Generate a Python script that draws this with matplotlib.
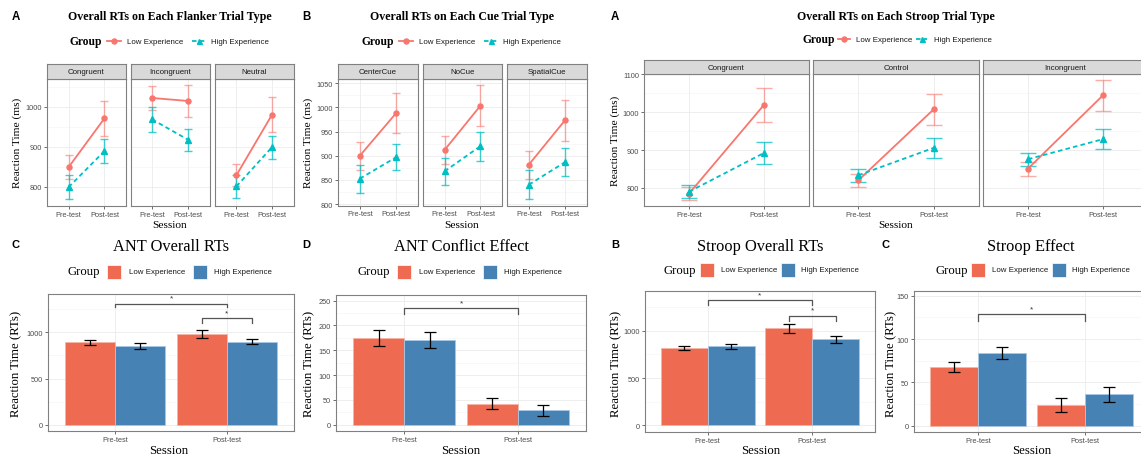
import matplotlib
matplotlib.use("Agg")
import matplotlib.pyplot as plt
from matplotlib.lines import Line2D
from matplotlib.patches import Rectangle
import numpy as np

W, H = 1141, 456

sessions = ["Pre-test", "Post-test"]
groups = ["Low Experience", "High Experience"]

# ANT flanker trial types (mean, se) per session
flanker_types = ["Congruent", "Incongruent", "Neutral"]
flanker_low = [[849, 971.5], [1022.5, 1015], [829, 981]]
flanker_low_se = [[30.5, 43], [31, 40.5], [28, 43]]
flanker_high = [[799, 889.5], [969, 918], [801, 899.5]]
flanker_high_se = [[30, 30], [32, 28], [28.5, 29]]

# ANT cue trial types
cue_types = ["CenterCue", "NoCue", "SpatialCue"]
cue_low = [[900, 988.5], [912, 1003.7], [881.5, 974]]
cue_low_se = [[29, 41], [29, 42.7], [29, 42.5]]
cue_high = [[852.5, 897], [867.7, 920], [840, 887]]
cue_high_se = [[29, 26.6], [28.3, 30], [30.3, 28.2]]

# Stroop trial types
stroop_types = ["Congruent", "Control", "Incongruent"]
stroop_low = [[785, 1019.7], [820, 1008], [851, 1045]]
stroop_low_se = [[18, 44], [17.5, 41.5], [18.5, 41.5]]
stroop_high = [[790, 892.6], [833.5, 906], [876, 929]]
stroop_high_se = [[17.5, 28], [17.6, 27], [17.3, 27]]

# bar panels
ant_rt_low, ant_rt_low_se = [891, 982], [29, 47]
ant_rt_high, ant_rt_high_se = [851, 899], [31, 29]
ant_conf_low, ant_conf_low_se = [174.5, 42.5], [15.5, 11]
ant_conf_high, ant_conf_high_se = [171, 29], [15.7, 10.7]
stroop_rt_low, stroop_rt_low_se = [817.5, 1024.6], [24.5, 49]
stroop_rt_high, stroop_rt_high_se = [835, 909], [24.5, 33.5]
stroop_eff_low, stroop_eff_low_se = [67.7, 23.8], [6.2, 8.5]
stroop_eff_high, stroop_eff_high_se = [83.8, 36.2], [7, 8.7]

LOW_C, HIGH_C = "#F8766D", "#00BFC4"
LOW_BAR, HIGH_BAR = "#EE6A50", "#4682B4"
SERIF = "Liberation Serif"
SANS = "Liberation Sans"
TICK_C = "#4D4D4D"
BORDER_C = "#808080"

fig = plt.figure(figsize=(W / 100, H / 100), dpi=100)


def box(x0, y0, x1, y1):
    return [x0 / W, 1 - y1 / H, (x1 - x0) / W, (y1 - y0) / H]


def fx(x):
    return x / W


def fy(y):
    return 1 - y / H


def style_axes(ax, ylim, yticks, minor, show_y=True, tsize=5.3):
    ax.set_ylim(*ylim)
    ax.set_yticks(yticks)
    ax.set_yticks(minor, minor=True)
    ax.grid(True, which="major", color="#EBEBEB", lw=0.6)
    ax.grid(True, which="minor", axis="y", color="#F3F3F3", lw=0.4)
    ax.set_axisbelow(True)
    ax.tick_params(which="minor", length=0)
    ax.tick_params(which="major", length=2, width=0.5, color="#333333",
                   labelsize=tsize, labelcolor=TICK_C, pad=1.5)
    for lab in ax.get_xticklabels() + ax.get_yticklabels():
        lab.set_fontfamily(SANS)
    if not show_y:
        ax.tick_params(axis="y", length=0, labelleft=False)
    for s in ax.spines.values():
        s.set_color(BORDER_C)
        s.set_linewidth(0.8)


def facet_row(xs, top, strip_b, bottom, names, low, low_se, high, high_se,
              ylim, yticks, minor):
    pos = np.arange(1, 3)
    for i, (x0, x1) in enumerate(xs):
        ax = fig.add_axes(box(x0, strip_b, x1, bottom))
        ppu = (x1 - x0) / 2.2
        cap = 0.11 * ppu * 0.72
        ax.errorbar(pos, low[i], yerr=low_se[i], fmt="none", ecolor=LOW_C,
                    elinewidth=1.0, capsize=cap, capthick=1.0, alpha=0.6)
        ax.errorbar(pos, high[i], yerr=high_se[i], fmt="none", ecolor=HIGH_C,
                    elinewidth=1.0, capsize=cap, capthick=1.0, alpha=0.75)
        ax.plot(pos, low[i], color=LOW_C, lw=1.3, marker="o", ms=3.6)
        ax.plot(pos, high[i], color=HIGH_C, lw=1.3, ls=(0, (2.5, 1.8)),
                marker="^", ms=3.8)
        ax.set_xlim(0.4, 2.6)
        ax.set_xticks(pos)
        ax.set_xticklabels(sessions)
        style_axes(ax, ylim, yticks, minor, show_y=(i == 0))
        st = fig.add_axes(box(x0, top, x1, strip_b))
        st.set_facecolor("#D9D9D9")
        st.set_xticks([])
        st.set_yticks([])
        for s in st.spines.values():
            s.set_color(BORDER_C)
            s.set_linewidth(0.8)
        st.text(0.5, 0.5, names[i], ha="center", va="center", fontsize=5.7,
                family=SANS, color="#1A1A1A", transform=st.transAxes)


def line_legend(gx, gy, low_line, low_tx, high_line, high_tx):
    fig.text(fx(gx), fy(gy), "Group", family=SERIF, weight="bold",
             fontsize=8.3, ha="left", va="center")
    for (a, b), tx, c, m, ls in [(low_line, low_tx, LOW_C, "o", "-"),
                                 (high_line, high_tx, HIGH_C, "^", (0, (2.5, 1.8)))]:
        fig.add_artist(Line2D([fx(a), fx(b)], [fy(gy), fy(gy)], color=c, lw=1.3,
                              ls=ls, transform=fig.transFigure))
        fig.add_artist(Line2D([fx((a + b) / 2)], [fy(gy)], color=c, marker=m,
                              ms=3.6, transform=fig.transFigure))
    fig.text(fx(low_tx), fy(gy), groups[0], family=SANS, fontsize=5.7,
             ha="left", va="center", color="#1A1A1A")
    fig.text(fx(high_tx), fy(gy), groups[1], family=SANS, fontsize=5.7,
             ha="left", va="center", color="#1A1A1A")


def bar_legend(gx, gy, low_x, low_tx, high_x, high_tx):
    fig.text(fx(gx), fy(gy), "Group", family=SERIF, fontsize=9.2,
             ha="left", va="center")
    for x, c in [(low_x, LOW_BAR), (high_x, HIGH_BAR)]:
        fig.add_artist(Rectangle((fx(x), fy(gy + 7)), 14 / W, 14 / H,
                                 facecolor=c, edgecolor="white", lw=0.5,
                                 transform=fig.transFigure))
    fig.text(fx(low_tx), fy(gy), groups[0], family=SANS, fontsize=5.7,
             ha="left", va="center", color="#1A1A1A")
    fig.text(fx(high_tx), fy(gy), groups[1], family=SANS, fontsize=5.7,
             ha="left", va="center", color="#1A1A1A")


def bar_panel(x0, y0, x1, y1, low, low_se, high, high_se, ylim, yticks, minor,
              brackets):
    ax = fig.add_axes(box(x0, y0, x1, y1))
    pos = np.arange(1, 3)
    ax.bar(pos - 0.225, low, width=0.45, color=LOW_BAR, edgecolor="#F7B4A6", lw=0.6)
    ax.bar(pos + 0.225, high, width=0.45, color=HIGH_BAR, edgecolor="#A9C8E6", lw=0.6)
    ax.errorbar(pos - 0.225, low, yerr=low_se, fmt="none", ecolor="black",
                elinewidth=0.9, capsize=4.2, capthick=0.9)
    ax.errorbar(pos + 0.225, high, yerr=high_se, fmt="none", ecolor="black",
                elinewidth=0.9, capsize=4.2, capthick=0.9)
    for xa, xb, yb, drop, ys in brackets:
        ax.plot([xa, xa, xb, xb], [drop, yb, yb, drop], color="#555555", lw=0.9)
        ax.text((xa + xb) / 2, ys, "*", ha="center", va="center", fontsize=6,
                color="#333333", family=SANS)
    ax.set_xlim(0.4, 2.6)
    ax.set_xticks(pos)
    ax.set_xticklabels(sessions)
    style_axes(ax, ylim, yticks, minor)
    return ax


# ---------------- top row ----------------
facet_row([(47, 126), (130.5, 209.5), (215, 293.5)], 65, 80, 207,
          flanker_types, flanker_low, flanker_low_se, flanker_high, flanker_high_se,
          (752, 1070), [800, 900, 1000], [850, 950, 1050])
facet_row([(338, 418), (423, 502), (507, 587)], 64.5, 80, 206.5,
          cue_types, cue_low, cue_low_se, cue_high, cue_high_se,
          (797, 1059), [800, 850, 900, 950, 1000, 1050],
          [825, 875, 925, 975, 1025])
facet_row([(644, 809), (813, 979), (983, 1148)], 60.7, 75.3, 207.3,
          stroop_types, stroop_low, stroop_low_se, stroop_high, stroop_high_se,
          (751.5, 1100.5), [800, 900, 1000, 1100], [850, 950, 1050])

for x, t in [(15.7, "A"), (306.5, "B"), (614.5, "A")]:
    fig.text(fx(x), fy(17), t, family=SANS, weight="bold", fontsize=8.3,
             ha="center", va="center")
for x, t in [(170, "Overall RTs on Each Flanker Trial Type"),
             (462, "Overall RTs on Each Cue Trial Type"),
             (896, "Overall RTs on Each Stroop Trial Type")]:
    fig.text(fx(x), fy(17.3), t, family=SERIF, weight="bold", fontsize=8.6,
             ha="center", va="center")

line_legend(70, 42.3, (107, 121), 127, (192, 205), 211)
line_legend(362, 42.3, (399, 413), 419, (484, 497), 503)
line_legend(802.5, 40.3, (837.5, 849.5), 856, (916, 927), 934)

for x, y in [(16.7, 143), (308.3, 143), (615, 141)]:
    fig.text(fx(x), fy(y), "Reaction Time (ms)", family=SERIF, fontsize=8.2,
             rotation=90, ha="center", va="center")
for x in [170, 462, 896]:
    fig.text(fx(x), fy(226), "Session", family=SERIF, fontsize=8.2,
             ha="center", va="center")

# ---------------- bottom row ----------------
bar_panel(48, 295, 294, 432, ant_rt_low, ant_rt_low_se, ant_rt_high, ant_rt_high_se,
          (-69, 1417), [0, 500, 1000], [250, 750, 1250],
          [(1, 2, 1308, 1272, 1375), (1.775, 2.225, 1152, 1098, 1215)])
bar_panel(336, 296, 586, 432, ant_conf_low, ant_conf_low_se, ant_conf_high,
          ant_conf_high_se, (-12.8, 261.5), [0, 50, 100, 150, 200, 250],
          [25, 75, 125, 175, 225],
          [(1, 2, 234.5, 224, 245)])
bar_panel(645, 292, 875, 433, stroop_rt_low, stroop_rt_low_se, stroop_rt_high,
          stroop_rt_high_se, (-70, 1421), [0, 500, 1000], [250, 750, 1250],
          [(1, 2, 1323, 1274, 1385), (1.775, 2.225, 1161, 1105, 1226)])
bar_panel(914, 292, 1149, 433, stroop_eff_low, stroop_eff_low_se, stroop_eff_high,
          stroop_eff_high_se, (-7.3, 155.4), [0, 50, 100, 150], [25, 75, 125],
          [(1, 2, 128.8, 120.4, 135)])

for x, t in [(15.7, "C"), (306.7, "D"), (615, "B"), (885, "C")]:
    fig.text(fx(x), fy(245), t, family=SANS, weight="bold", fontsize=8,
             ha="center", va="center")
for x, t in [(171.5, "ANT Overall RTs"), (461, "ANT Conflict Effect"),
             (760.5, "Stroop Overall RTs"), (1031, "Stroop Effect")]:
    fig.text(fx(x), fy(247), t, family=SERIF, fontsize=11.8,
             ha="center", va="center")

bar_legend(68, 272.5, 107, 129, 193, 214)
bar_legend(358, 272.5, 397, 419, 483, 504)
bar_legend(664, 270.7, 700, 720.7, 781, 800.7)
bar_legend(935, 270.7, 971, 991.7, 1052, 1071.7)

for x in [16.7, 309, 616.7, 891.7]:
    fig.text(fx(x), fy(364), "Reaction Time (RTs)", family=SERIF, fontsize=9.2,
             rotation=90, ha="center", va="center")
for x in [169, 461, 761, 1031.7]:
    fig.text(fx(x), fy(451), "Session", family=SERIF, fontsize=9.2,
             ha="center", va="center")

fig.savefig("out.png", dpi=100)
